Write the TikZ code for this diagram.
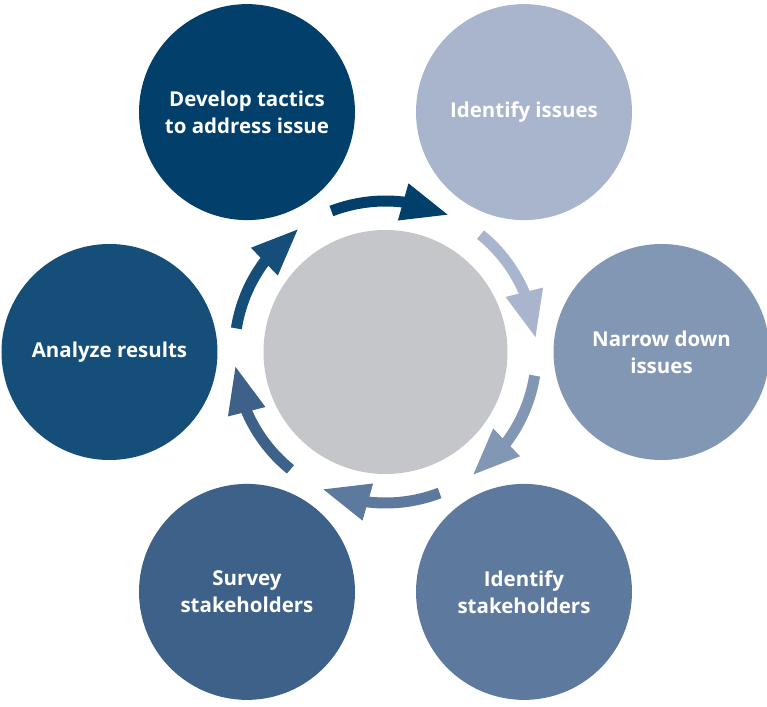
\documentclass[tikz,border=0pt]{standalone}
\usepackage{fontspec}
\setsansfont{Open Sans}
\usetikzlibrary{arrows.meta,bending}

\definecolor{tactics}{HTML}{023F6B}
\definecolor{issues}{HTML}{A9B5CC}
\definecolor{narrow}{HTML}{8297B4}
\definecolor{stake}{HTML}{5E799E}
\definecolor{survey}{HTML}{3E6189}
\definecolor{analyze}{HTML}{154E79}
\definecolor{hubgray}{HTML}{C5C6CA}

\begin{document}
\begin{tikzpicture}[
  x=1pt, y=1pt,
  font=\sffamily\bfseries\fontsize{20.5}{27}\selectfont,
  stage/.style={circle, minimum size=216pt, inner sep=0pt, align=center, text=white},
  cyc/.style={line width=11pt, -{Triangle[length=48pt, width=35pt, flex]}}
]
\useasboundingbox (-385.5,-354) rectangle (381.5,352);
\node[circle, fill=hubgray, minimum size=244pt] (hub) at (0,0) {};
\node[stage, fill=tactics] (dev)  at (120:277) {Develop tactics\\to address issue};
\node[stage, fill=issues]  (iss)  at (60:277)  {Identify issues};
\node[stage, fill=narrow]  (nar)  at (0:276)   {Narrow down\\issues};
\node[stage, fill=stake]   (idst) at (-60:277) {Identify\\stakeholders};
\node[stage, fill=survey]  (surv) at (-120:277) {Survey\\stakeholders};
\node[stage, fill=analyze] (ana)  at (180:276) {Analyze results};
% one arrow in each gap, in the colour of the stage it leaves
\foreach \a/\c in {90/tactics, 30/issues, -30/narrow, -90/stake, -150/survey, 150/analyze}
  \draw[cyc, \c] ([shift={(\a+21:151)}]hub.center) arc[start angle=\a+21, end angle=\a-25, radius=151];
\end{tikzpicture}
\end{document}
